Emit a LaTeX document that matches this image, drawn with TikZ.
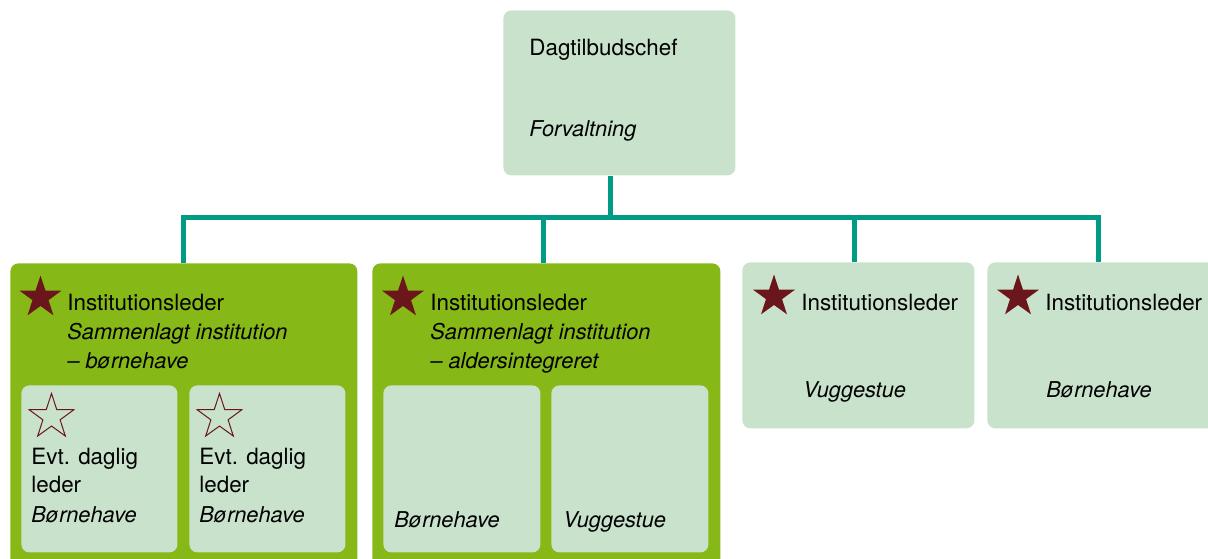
\documentclass[tikz,border=0pt]{standalone}
\usepackage{fontspec}
\setmainfont{TeX Gyre Heros}
\usetikzlibrary{shapes.geometric}

\definecolor{lysgron}{HTML}{C9E2CC}
\definecolor{olivengron}{HTML}{86B817}
\definecolor{linjegron}{HTML}{009B85}
\definecolor{stjernerod}{HTML}{6A161A}

\tikzset{
  boks/.style={fill=lysgron, rounded corners=4pt, inner sep=0, anchor=north west},
  ramme/.style={fill=olivengron, rounded corners=4pt, inner sep=0, anchor=north west},
  tekst/.style={anchor=base west, inner sep=0, font=\fontsize{11.2}{14}\selectfont},
  kursiv/.style={tekst, font=\fontsize{10.9}{14}\selectfont\itshape},
  link/.style={draw=linjegron, line width=2.5pt},
  fuldstjerne/.style={star, star points=5, star point ratio=2.6, fill=stjernerod, inner sep=0, minimum size=22pt},
  tomstjerne/.style={star, star points=5, star point ratio=2.6, draw=stjernerod, line width=0.5pt, inner sep=0, minimum size=23.5pt},
}

\begin{document}
\begin{tikzpicture}[x=0.5pt, y=-0.5pt]
\useasboundingbox (0,0) rectangle (1208,558);

% forvaltning
\node[boks, minimum width=116pt, minimum height=82.5pt] (chef) at (503,10) {};
\node[tekst] (cheftitel) at (529,55) {Dagtilbudschef};
\node[kursiv] (chefsted) at (529,136) {Forvaltning};

% institutioner
\node[ramme, minimum width=173.5pt, minimum height=153.5pt] (ramme1) at (10,263) {};
\node[ramme, minimum width=174pt, minimum height=153.5pt] (ramme2) at (372,263) {};
\node[boks, minimum width=116pt, minimum height=83pt] (inst3) at (742,262) {};
\node[boks, minimum width=116pt, minimum height=83pt] (inst4) at (987,262) {};

% forbindelser
\coordinate (bus) at (610,217);
\draw[link] (bus |- chef.south) -- (bus);
\draw[link] (ramme1.north) |- ([xshift=-2.5pt]inst4.north |- bus) -- ([xshift=-2.5pt]inst4.north);
\draw[link] ([xshift=-1.5pt]ramme2.north) -- ([xshift=-1.5pt]ramme2.north |- bus);
\draw[link] ([xshift=-2pt]inst3.north) -- ([xshift=-2pt]inst3.north |- bus);

% sammenlagt - boernehave
\node[fuldstjerne] (stjerne1) at (40.5,297.5) {};
\node[tekst] (leder1) at (67,310) {Institutionsleder};
\node[kursiv] (type1a) at (67,339) {Sammenlagt institution};
\node[kursiv] (type1b) at (67,368) {– børnehave};
\node[boks, minimum width=78pt, minimum height=83.5pt] (afd1a) at (21,385) {};
\node[boks, minimum width=78pt, minimum height=83.5pt] (afd1b) at (189,385) {};
\node[tomstjerne] (tom1a) at (51.5,417) {};
\node[tomstjerne] (tom1b) at (219.5,417) {};
\node[tekst] (daglig1a) at (31,464) {Evt. daglig};
\node[tekst] (dagligleder1a) at (31,492) {leder};
\node[kursiv] (afdtype1a) at (31,522) {Børnehave};
\node[tekst] (daglig1b) at (199,464) {Evt. daglig};
\node[tekst] (dagligleder1b) at (199,492) {leder};
\node[kursiv] (afdtype1b) at (199,522) {Børnehave};

% sammenlagt - aldersintegreret
\node[fuldstjerne] (stjerne2) at (403,297.5) {};
\node[tekst] (leder2) at (430,310) {Institutionsleder};
\node[kursiv] (type2a) at (430,339) {Sammenlagt institution};
\node[kursiv] (type2b) at (430,368) {– aldersintegreret};
\node[boks, minimum width=78.5pt, minimum height=83.5pt] (afd2a) at (383,385) {};
\node[boks, minimum width=78.5pt, minimum height=83.5pt] (afd2b) at (551,385) {};
\node[kursiv] (afdtype2a) at (394,527) {Børnehave};
\node[kursiv] (afdtype2b) at (563,527) {Vuggestue};

% selvstaendige institutioner
\node[fuldstjerne] (stjerne3) at (774,296.5) {};
\node[tekst] (leder3) at (801,310) {Institutionsleder};
\node[kursiv] (type3) at (803,397) {Vuggestue};
\node[fuldstjerne] (stjerne4) at (1018,296.5) {};
\node[tekst] (leder4) at (1045,310) {Institutionsleder};
\node[kursiv] (type4) at (1046,397) {Børnehave};
\end{tikzpicture}
\end{document}
